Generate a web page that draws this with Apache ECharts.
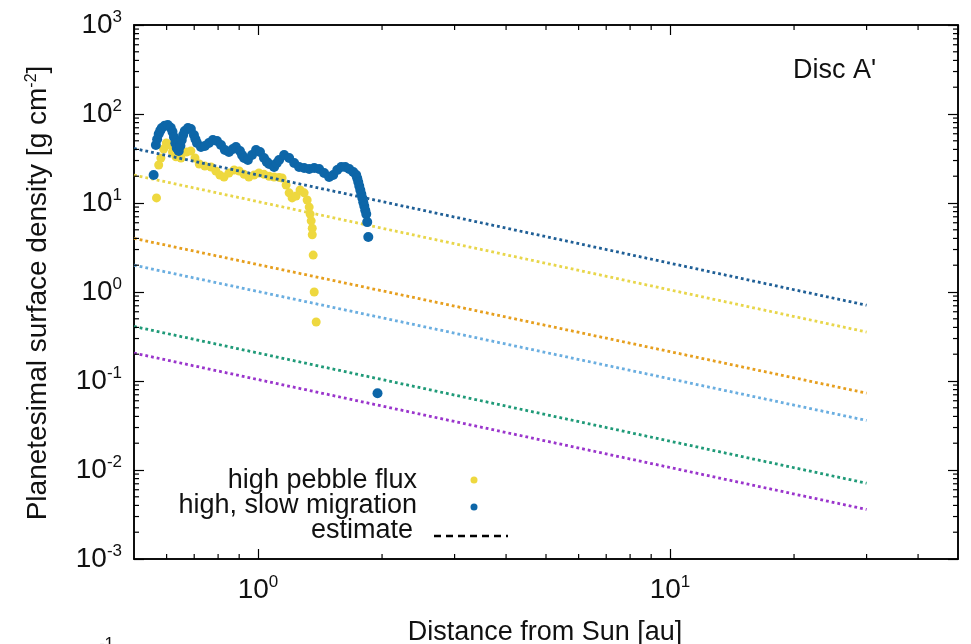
<!DOCTYPE html>
<html><head><meta charset="utf-8">
<script src="https://cdn.jsdelivr.net/npm/echarts@6/dist/echarts.min.js"></script>
<style>html,body{margin:0;padding:0;background:#fff}#c{width:971px;height:644px}</style>
</head><body><div id="c"></div>
<script>
const FONT = '"Liberation Sans", Arial, sans-serif';

// axis ranges and tick lists
const xRange = [0.5, 50];
const yRange = [0.001, 1000];
const xMinorTicks = [0.6, 0.7, 0.8, 0.9, 2, 3, 4, 5, 6, 7, 8, 9, 20, 30, 40];
const yMinorMultipliers = [2, 3, 4, 5, 6, 7, 8, 9];
const yDecades = [0.001, 0.01, 0.1, 1, 10, 100];

// legend / labels
const seriesNames = ['high pebble flux', 'high, slow migration', 'estimate'];
const panelTitle = "Disc A'";
const xTitle = 'Distance from Sun [au]';
const yTitle = 'Planetesimal surface density [g cm{s|-2}]';

// scatter data [distance au, surface density g/cm^2]
const highPebbleFlux = [
  [0.567, 11.4], [0.574, 26.7], [0.581, 32], [0.590, 40.4], [0.599, 47.2], [0.609, 44.9],
  [0.620, 37.4], [0.632, 33.0], [0.650, 32.0], [0.670, 37.4], [0.687, 38.4], [0.703, 32.0],
  [0.720, 27.4], [0.743, 26.0], [0.769, 25.4], [0.790, 22.9], [0.808, 20.6], [0.827, 19.6],
  [0.850, 21.7], [0.875, 23.5], [0.900, 22.9], [0.925, 21.0], [0.950, 19.6], [0.978, 20.6],
  [1.005, 21.7], [1.034, 21.0], [1.064, 20.0], [1.094, 19.6], [1.125, 19.4], [1.144, 19.1],
  [1.170, 15.9], [1.190, 13.0], [1.210, 11.4], [1.237, 12.0], [1.265, 14.0], [1.294, 13.0],
  [1.316, 10.8], [1.331, 9.0], [1.338, 7.5], [1.346, 6.3], [1.354, 5.2], [1.354, 4.4],
  [1.361, 2.6], [1.369, 1.0], [1.384, 0.46]
];
const highSlowMigration = [
  [0.558, 20.6], [0.565, 44.9], [0.569, 52], [0.574, 59.6], [0.579, 65], [0.584, 69.6],
  [0.594, 74], [0.604, 75], [0.614, 70], [0.620, 63], [0.625, 55.2], [0.630, 47],
  [0.635, 41.5], [0.642, 38.4], [0.648, 44], [0.653, 51.0], [0.658, 58], [0.664, 64.4],
  [0.676, 69.6], [0.687, 67.8], [0.699, 58.1], [0.705, 52], [0.711, 47.2], [0.727, 42.6],
  [0.743, 43.7], [0.760, 47.2], [0.777, 51.0], [0.795, 49.7], [0.813, 44.9], [0.831, 39.4],
  [0.850, 37.4], [0.869, 40.4], [0.884, 42.6], [0.904, 38.4], [0.915, 34.5], [0.925, 32.0],
  [0.945, 30.4], [0.967, 34.6], [0.989, 39.4], [1.011, 37.4], [1.034, 32.0], [1.050, 29.0],
  [1.064, 27.4], [1.094, 25.4], [1.110, 28], [1.125, 30.4], [1.157, 34.6], [1.190, 32.0],
  [1.224, 28.1], [1.258, 25.4], [1.294, 24.7], [1.331, 24.1], [1.369, 24.7], [1.407, 24.1],
  [1.447, 21.7], [1.488, 19.6], [1.522, 20.6], [1.557, 23.5], [1.592, 25.4], [1.628, 25.4],
  [1.665, 24.1], [1.703, 22.3], [1.731, 20.6], [1.741, 19.0], [1.751, 17.2], [1.761, 15.5],
  [1.771, 14.0], [1.781, 12.6], [1.791, 11.4], [1.801, 10.2], [1.811, 9.25], [1.821, 8.3],
  [1.831, 7.5], [1.841, 6.1], [1.852, 4.15], [1.95, 0.073]
];

// estimate lines: x end points and y values at those points
const estimateX = [0.5, 30];
const estimateBlue = [41, 0.71];
const estimateYellow = [20.6, 0.355];
const estimateOrange = [4.0, 0.073];
const estimateLightBlue = [2.0, 0.036];
const estimateGreen = [0.41, 0.0071];
const estimatePurple = [0.206, 0.0036];

const estimates = [
  [estimateBlue, '#1f5f96'],
  [estimateYellow, '#e8d64a'],
  [estimateOrange, '#e69f1e'],
  [estimateLightBlue, '#6aaee0'],
  [estimateGreen, '#1f9a78'],
  [estimatePurple, '#9a35cc']
];

const yMinorTicks = [];
yDecades.forEach(d => yMinorMultipliers.forEach(m => yMinorTicks.push(+(d * m).toPrecision(3))));

const rich = {
  b: { fontSize: 28, lineHeight: 32, fontFamily: FONT, color: '#111' },
  s: { fontSize: 17, lineHeight: 15, verticalAlign: 'top', fontFamily: FONT, color: '#111' }
};
function powLabel(v) {
  const e = Math.log10(v), r = Math.round(e);
  if (Math.abs(e - r) > 1e-6) return '';
  return '{b|10}{s|' + r + '}';
}

const axisLineStyle = { show: true, onZero: false, lineStyle: { color: '#000', width: 1.5 } };
const majorTick = { show: true, inside: true, length: 10, lineStyle: { color: '#000', width: 1.2 } };

function xAxisCfg(pos, labels) {
  return {
    type: 'log', logBase: 10, min: xRange[0], max: xRange[1], position: pos,
    axisLine: axisLineStyle, axisTick: majorTick, splitLine: { show: false },
    axisLabel: { show: labels, formatter: powLabel, rich: rich, margin: 15, showMinLabel: false, showMaxLabel: false }
  };
}
function yAxisCfg(pos, labels) {
  return {
    type: 'log', logBase: 10, min: yRange[0], max: yRange[1], position: pos,
    axisLine: axisLineStyle, axisTick: majorTick, splitLine: { show: false },
    axisLabel: { show: labels, formatter: powLabel, rich: rich, margin: 12 }
  };
}

const tickStyle = { stroke: '#000', lineWidth: 1.2 };
const series = [];
series.push({
  type: 'scatter', name: seriesNames[0], data: highPebbleFlux, symbolSize: 9, z: 1,
  itemStyle: { color: '#eed83f', opacity: 1 }
});
estimates.forEach(([vals, col]) => {
  series.push({
    type: 'line', data: estimateX.map((x, i) => [x, vals[i]]), showSymbol: false, symbol: 'none', z: 2,
    lineStyle: { color: col, width: 2.8, type: [2.8, 3] }, silent: true
  });
});
series.push({
  type: 'scatter', name: seriesNames[1], data: highSlowMigration, symbolSize: 10, z: 3,
  itemStyle: { color: '#0d66a8', opacity: 1 }
});
series.push({
  type: 'custom', silent: true, clip: false, z: 5,
  data: xMinorTicks.map(v => [v, 1]),
  renderItem: (params, api) => {
    const cs = params.coordSys;
    const x = api.coord([api.value(0), 1])[0];
    return { type: 'group', children: [
      { type: 'line', shape: { x1: x, y1: cs.y + cs.height, x2: x, y2: cs.y + cs.height - 5 }, style: tickStyle },
      { type: 'line', shape: { x1: x, y1: cs.y, x2: x, y2: cs.y + 5 }, style: tickStyle }
    ] };
  }
});
series.push({
  type: 'custom', silent: true, clip: false, z: 5,
  data: yMinorTicks.map(v => [1, v]),
  renderItem: (params, api) => {
    const cs = params.coordSys;
    const y = api.coord([1, api.value(1)])[1];
    return { type: 'group', children: [
      { type: 'line', shape: { x1: cs.x, y1: y, x2: cs.x + 5, y2: y }, style: tickStyle },
      { type: 'line', shape: { x1: cs.x + cs.width, y1: y, x2: cs.x + cs.width - 5, y2: y }, style: tickStyle }
    ] };
  }
});

const textFont = '27px ' + FONT;
const chart = echarts.init(document.getElementById('c'), null, { renderer: 'canvas' });
chart.setOption({
  animation: false,
  backgroundColor: '#fff',
  grid: { left: 134, top: 25, right: 13, bottom: 85, show: true, borderColor: '#000', borderWidth: 1.5 },
  xAxis: [xAxisCfg('bottom', true), xAxisCfg('top', false)],
  yAxis: [yAxisCfg('left', true), yAxisCfg('right', false)],
  series: series,
  graphic: [
    { type: 'text', left: 793, top: 57, style: { text: panelTitle, font: textFont, fill: '#111' } },
    { type: 'text', x: 545, y: 633, style: { text: xTitle, font: textFont, fill: '#111', textAlign: 'center', textVerticalAlign: 'middle' } },
    { type: 'text', x: 38, y: 293, rotation: Math.PI / 2,
      style: { text: yTitle, font: '28px ' + FONT, fill: '#111', align: 'center', verticalAlign: 'middle',
        rich: { s: { fontSize: 16, lineHeight: 12, verticalAlign: 'top', fontFamily: FONT, fill: '#111' } } } },
    { type: 'text', x: 417, y: 481, style: { text: seriesNames[0], font: textFont, fill: '#111', textAlign: 'right', textVerticalAlign: 'middle' } },
    { type: 'text', x: 417, y: 506, style: { text: seriesNames[1], font: textFont, fill: '#111', textAlign: 'right', textVerticalAlign: 'middle' } },
    { type: 'text', x: 413, y: 531, style: { text: seriesNames[2], font: textFont, fill: '#111', textAlign: 'right', textVerticalAlign: 'middle' } },
    { type: 'circle', shape: { cx: 474, cy: 480, r: 3.5 }, style: { fill: '#eed83f' } },
    { type: 'circle', shape: { cx: 474, cy: 507, r: 3.5 }, style: { fill: '#0d66a8' } },
    { type: 'line', shape: { x1: 434, y1: 536, x2: 508, y2: 536 }, style: { stroke: '#000', lineWidth: 2.5, lineDash: [7, 5] } },
    { type: 'text', x: 114, y: 636, style: { text: '{b|10}{s|-1}', fill: '#111', align: 'right', verticalAlign: 'top',
      rich: { b: { fontSize: 28, lineHeight: 40, fontFamily: FONT, fill: '#111' }, s: { fontSize: 17, lineHeight: 14, verticalAlign: 'top', fontFamily: FONT, fill: '#111' } } } }
  ]
});
</script>
</body></html>
